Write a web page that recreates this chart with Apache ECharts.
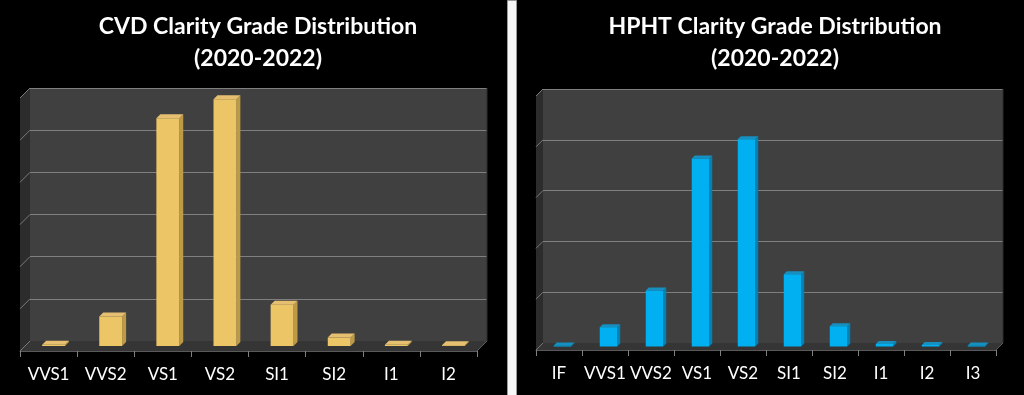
<!DOCTYPE html>
<html><head><meta charset="utf-8">
<script src="https://cdn.jsdelivr.net/npm/echarts@6/dist/echarts.min.js"></script>
<style>html,body{margin:0;padding:0;background:#000}#c{width:1024px;height:395px}</style>
</head><body><div id="c"></div>
<script>
// ---- data ----
const cvdCategories = ['VVS1','VVS2','VS1','VS2','SI1','SI2','I1','I2'];
const cvdValues = [0.03, 0.7, 5.4, 5.85, 0.98, 0.2, 0.03, 0.02];
const hphtCategories = ['IF','VVS1','VVS2','VS1','VS2','SI1','SI2','I1','I2','I3'];
const hphtValues = [0.02, 0.38, 1.1, 3.7, 4.08, 1.42, 0.4, 0.05, 0.03, 0.02];
const cvdMax = 6, hphtMax = 5;
const cvdTitle = 'CVD Clarity Grade Distribution\n(2020-2022)';
const hphtTitle = 'HPHT Clarity Grade Distribution\n(2020-2022)';

// ---- layout / style ----
const panels = [
  {cats: cvdCategories, vals: cvdValues, max: cvdMax, title: cvdTitle, titleX: 253,
   back: {left: 30, top: 88, width: 457, height: 253}, depth: 10, barW: 0.40, barD: 4,
   colors: {front: '#ECC566', side: '#BD9A45', top: '#E6C070'}},
  {cats: hphtCategories, vals: hphtValues, max: hphtMax, title: hphtTitle, titleX: 770,
   back: {left: 543, top: 89, width: 460, height: 254}, depth: 7, barW: 0.38, barD: 3,
   colors: {front: '#00B0F0', side: '#0082B4', top: '#1590C0'}}
];

function wallsRender(d, max) {
  return function (params, api) {
    const cs = params.coordSys;
    const x = cs.x, y = cs.y, w = cs.width, h = cs.height;
    const ch = [];
    ch.push({type: 'polygon', shape: {points: [[x, y], [x, y + h], [x - d, y + h + d], [x - d, y + d]]},
      style: {fill: '#2c2c2c'}});
    ch.push({type: 'polygon', shape: {points: [[x, y + h], [x + w, y + h], [x + w - d, y + h + d], [x - d, y + h + d]]},
      style: {fill: '#353535'}});
    for (let v = 0; v <= max; v++) {
      const py = api.coord([0, v])[1];
      ch.push({type: 'line', shape: {x1: x, y1: py, x2: x - d, y2: py + d},
        style: {stroke: '#7a7a7a', lineWidth: 1}});
    }
    ch.push({type: 'line', shape: {x1: x + w, y1: y + h, x2: x + w - d, y2: y + h + d},
      style: {stroke: '#5a5a5a', lineWidth: 1}});
    ch.push({type: 'line', shape: {x1: x + w, y1: y, x2: x + w, y2: y + h},
      style: {stroke: '#2e2e2e', lineWidth: 1}});
    return {type: 'group', children: ch};
  };
}

function barRender(p) {
  return function (params, api) {
    const cat = api.value(0), val = api.value(1);
    const base = api.coord([cat, 0]);
    const tp = api.coord([cat, val]);
    const bw = api.size([1, 0])[0] * p.barW;
    const x0 = base[0] - bw / 2, x1 = base[0] + bw / 2, yb = base[1], yt = tp[1];
    const d = p.barD;
    return {type: 'group', children: [
      {type: 'polygon', shape: {points: [[x1, yt], [x1 + d, yt - d], [x1 + d, yb - d], [x1, yb]]},
        style: {fill: p.colors.side}},
      {type: 'polygon', shape: {points: [[x0, yt], [x1, yt], [x1 + d, yt - d], [x0 + d, yt - d]]},
        style: {fill: p.colors.top}},
      {type: 'rect', shape: {x: x0, y: yt, width: bw, height: Math.max(yb - yt, 0.5)},
        style: {fill: p.colors.front}}
    ]};
  };
}

const grid = [], xAxis = [], yAxis = [], series = [], title = [];
panels.forEach((p, i) => {
  const b = p.back, d = p.depth;
  const gi = grid.length;
  grid.push({left: b.left, top: b.top, width: b.width, height: b.height, show: true,
    backgroundColor: '#404040', borderWidth: 0});
  grid.push({left: b.left - d / 2, top: b.top + d / 2, width: b.width, height: b.height});
  grid.push({left: b.left - d, top: b.top + d, width: b.width, height: b.height});
  xAxis.push({type: 'category', gridIndex: gi, data: p.cats, show: false});
  yAxis.push({type: 'value', gridIndex: gi, min: 0, max: p.max, interval: 1,
    axisLabel: {show: false}, axisLine: {show: false}, axisTick: {show: false},
    splitLine: {show: true, lineStyle: {color: '#7f7f7f', width: 1}}});
  xAxis.push({type: 'category', gridIndex: gi + 1, data: p.cats, show: false});
  yAxis.push({type: 'value', gridIndex: gi + 1, min: 0, max: p.max, show: false, splitLine: {show: false}});
  xAxis.push({type: 'category', gridIndex: gi + 2, data: p.cats, position: 'bottom',
    axisLine: {show: true, lineStyle: {color: '#595959'}},
    axisTick: {show: true, length: 6, lineStyle: {color: '#7f7f7f'}},
    axisLabel: {color: '#ffffff', fontSize: 17, fontFamily: 'Lato', margin: 15, interval: 0}});
  yAxis.push({type: 'value', gridIndex: gi + 2, min: 0, max: p.max, show: false, splitLine: {show: false}});

  series.push({type: 'custom', xAxisIndex: gi, yAxisIndex: gi, data: [[0, 0]],
    renderItem: wallsRender(d, p.max), silent: true, z: 1});
  series.push({type: 'custom', xAxisIndex: gi + 1, yAxisIndex: gi + 1,
    data: p.vals.map((v, k) => [k, v]), encode: {x: 0, y: 1},
    renderItem: barRender(p), z: 3});

  title.push({text: p.title, left: p.titleX, top: 6, textAlign: 'center',
    textStyle: {color: '#ffffff', fontSize: 23, fontWeight: 'bold', fontFamily: 'Lato', lineHeight: 32}});
});

const chart = echarts.init(document.getElementById('c'), null, {renderer: 'canvas'});
chart.setOption({
  backgroundColor: '#000000',
  animation: false,
  title, grid, xAxis, yAxis, series,
  graphic: [
    {type: 'rect', left: 507, top: 0, shape: {width: 9, height: 395},
      style: {fill: '#f7f7f7', stroke: '#9a9a9a', lineWidth: 1}}
  ]
});
</script>
</body></html>
